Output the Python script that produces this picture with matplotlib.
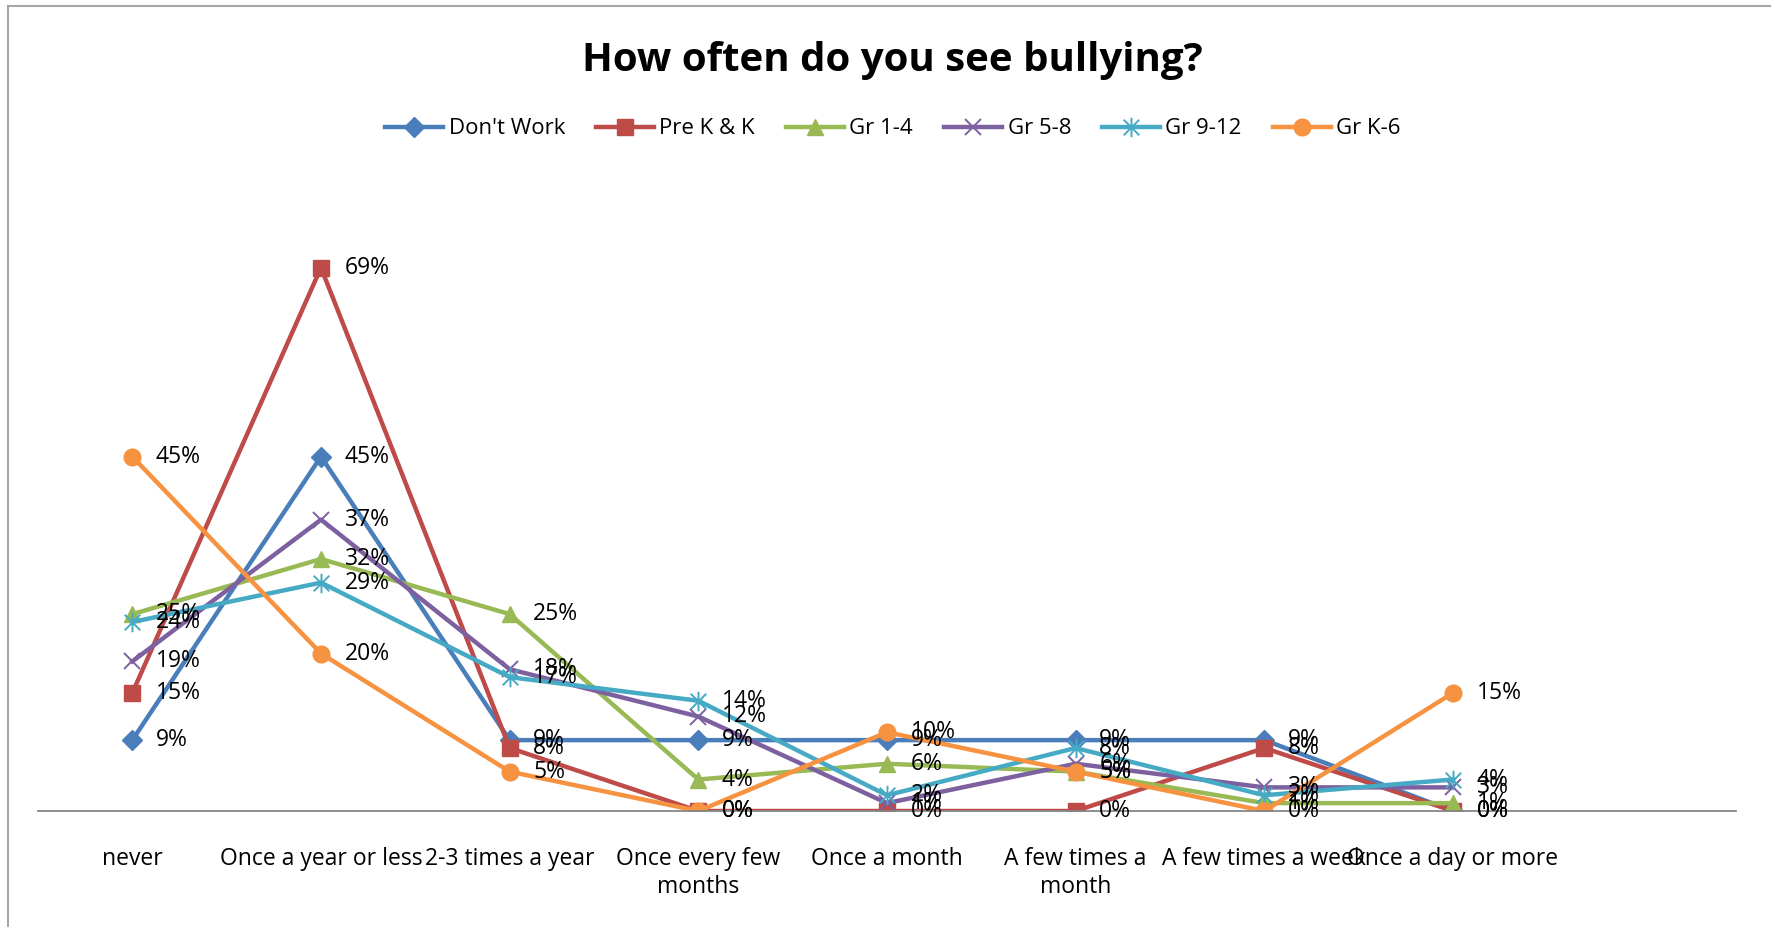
import matplotlib
matplotlib.use("Agg")
import matplotlib.pyplot as plt
from matplotlib.path import Path
import matplotlib.patches as mpatches

categories = ["never", "Once a year or less", "2-3 times a year", "Once every few\nmonths",
              "Once a month", "A few times a\nmonth", "A few times a week", "Once a day or more"]
series_names = ["Don't Work", "Pre K & K", "Gr 1-4", "Gr 5-8", "Gr 9-12", "Gr K-6"]
dont_work = [9, 45, 9, 9, 9, 9, 9, 0]
prek_k = [15, 69, 8, 0, 0, 0, 8, 0]
gr_1_4 = [25, 32, 25, 4, 6, 5, 1, 1]
gr_5_8 = [19, 37, 18, 12, 1, 6, 3, 3]
gr_9_12 = [24, 29, 17, 14, 2, 8, 2, 4]
gr_k_6 = [45, 20, 5, 0, 10, 5, 0, 15]
values = [dont_work, prek_k, gr_1_4, gr_5_8, gr_9_12, gr_k_6]

colors = ["#4A7EBB", "#BE4B48", "#98B954", "#7D60A0", "#46AAC5", "#F69240"]
star = Path([(0, -1), (0, 1), (-0.8, -0.8), (0.8, 0.8), (-0.8, 0.8), (0.8, -0.8)],
            [Path.MOVETO, Path.LINETO, Path.MOVETO, Path.LINETO, Path.MOVETO, Path.LINETO])
markers = ["D", "s", "^", "x", star, "o"]
msizes = [10, 12, 12, 12, 14, 12]

plt.rcParams['font.family'] = ['Open Sans', 'DejaVu Sans']

W, H = 1771, 927
fig = plt.figure(figsize=(W / 100, H / 100), dpi=100)
fig.patches.append(mpatches.Rectangle((8 / W, -0.01), 1.0, 1 - 6 / H + 0.01, transform=fig.transFigure,
                                      fill=False, edgecolor="#a6a6a6", linewidth=1.5))

ax = fig.add_axes([38 / W, (H - 811) / H, (1736 - 38) / W, (811 - 181) / H])
x = list(range(len(categories)))
for name, vals, c, m, ms in zip(series_names, values, colors, markers, msizes):
    ax.plot(x, vals, color=c, linewidth=3.2, marker=m, markersize=ms, markeredgecolor=c,
            markeredgewidth=1.4 if (m == "x" or m is star) else 1, label=name, solid_joinstyle="round")
    for xi, v in zip(x, vals):
        ax.annotate(f"{v}%", (xi, v), xytext=(17, 0), textcoords="offset points",
                    ha="left", va="center", fontsize=16.5, color="black")

ax.set_xlim(-0.5, 8.5)
ax.set_ylim(0, 80)
ax.set_xticks(x)
ax.set_xticklabels(categories, fontsize=16.5, linespacing=1.2)
ax.tick_params(axis="x", length=0, pad=26)
ax.set_yticks([])
for s in ["left", "right", "top"]:
    ax.spines[s].set_visible(False)
ax.spines["bottom"].set_color("#868686")
ax.spines["bottom"].set_linewidth(1.3)

fig.text(892 / W, 1 - 60 / H, "How often do you see bullying?", ha="center", va="center",
         fontsize=29, fontweight="bold")
fig.legend(loc="center", bbox_to_anchor=(893 / W, 1 - 129 / H), ncol=6, frameon=False,
           fontsize=16, handlelength=2.6, columnspacing=1.4, handletextpad=0.25)

fig.savefig("out.png", dpi=100)
